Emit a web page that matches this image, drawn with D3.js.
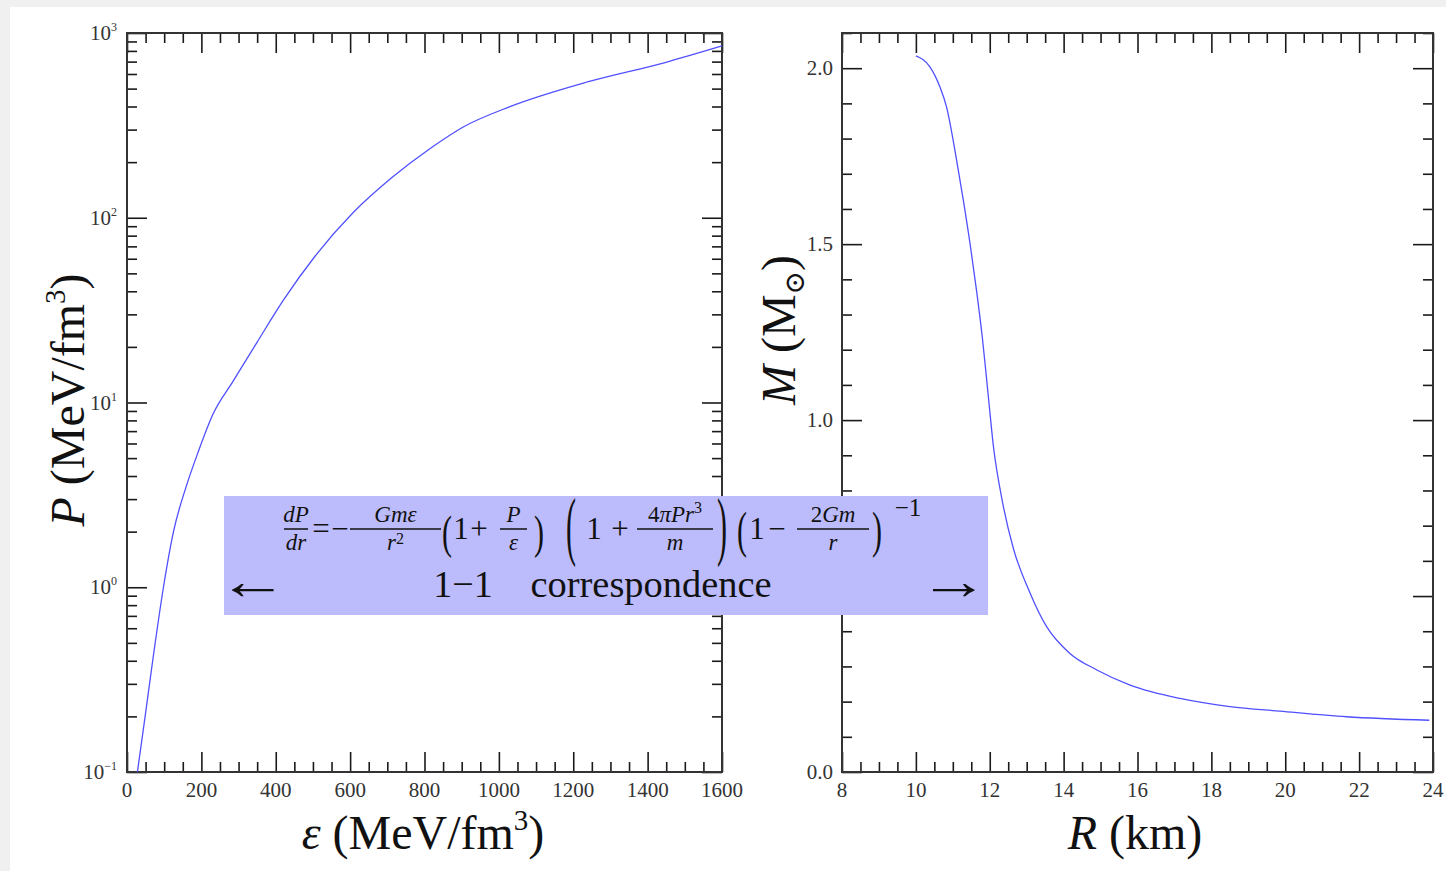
<!DOCTYPE html>
<html><head><meta charset="utf-8">
<script src="https://cdn.jsdelivr.net/npm/d3@7"></script>
<style>body{margin:0;background:#f0f0f0;} svg{display:block;} text{font-family:"Liberation Serif","DejaVu Serif",serif;}</style>
</head><body>
<svg id="c" width="1446" height="871"></svg>
<script>
// ---- data ----
const epsValues = [28, 48, 71, 98, 125, 160, 191, 232, 285, 348, 421, 505, 609, 714, 819, 903, 1028, 1238, 1447, 1600];
const pressureValues = [0.1, 0.195, 0.427, 1.0, 2.0, 3.55, 5.37, 8.71, 13.0, 20.9, 35.9, 61.7, 107, 166, 240, 309, 398, 543, 692, 851];
const radiusValues = [10.0, 10.38, 10.65, 10.83, 11.1, 11.28, 11.47, 11.65, 11.8, 11.95, 12.1, 12.34, 12.64, 13.09, 13.54, 14.17, 14.9, 15.8, 17.15, 18.5, 19.86, 21.66, 23.9];
const massValues = [2.035, 2.004, 1.947, 1.89, 1.74, 1.628, 1.499, 1.362, 1.234, 1.08, 0.925, 0.77, 0.635, 0.509, 0.413, 0.337, 0.29, 0.247, 0.209, 0.186, 0.173, 0.157, 0.147];

const epsMajorTicks = [0, 200, 400, 600, 800, 1000, 1200, 1400, 1600];
const pMajorTicks = [0.1, 1, 10, 100, 1000];
const pTickExponents = ["\u22121", "0", "1", "2", "3"];
const rMajorTicks = [8, 10, 12, 14, 16, 18, 20, 22, 24];
const mMajorTicks = [0, 0.5, 1.0, 1.5, 2.0];
const mTickLabels = ["0.0", "0.5", "1.0", "1.5", "2.0"];

// ---- layout ----
const W = 1446, H = 871;
const L = {x0: 127, x1: 722, y0: 33, y1: 772};
const R = {x0: 842, x1: 1433, y0: 33, y1: 772};
const MAJ = 20, MIN = 10;
const lineColor = "#5050ff";

const svg = d3.select("#c");
svg.append("rect").attr("width", W).attr("height", H).attr("fill", "#f0f0f0");
svg.append("rect").attr("x", 10).attr("y", 7).attr("width", W - 10).attr("height", H - 7).attr("fill", "#fff");

const xE = d3.scaleLinear().domain([0, 1600]).range([L.x0, L.x1]);
const yP = d3.scaleLog().domain([0.1, 1000]).range([L.y1, L.y0]);
const xR = d3.scaleLinear().domain([8, 24]).range([R.x0, R.x1]);
const yM = d3.scaleLinear().domain([0, 2.1]).range([R.y1, R.y0]);

const epsMinor = d3.range(0, 1601, 50).filter(v => v % 200 !== 0);
const pMinor = [];
[0.1, 1, 10, 100].forEach(d => { for (let k = 2; k <= 9; k++) pMinor.push(k * d); });
const rMinor = d3.range(8, 24.01, 0.5).filter(v => v % 2 !== 0);
const mMinor = d3.range(0, 2.101, 0.1).map(v => +v.toFixed(1)).filter(v => Math.abs(v * 2 - Math.round(v * 2)) > 1e-6);

function ticks(axisFn, scale, values, size, tx, ty) {
  const g = svg.append("g").attr("transform", `translate(${tx},${ty})`);
  g.call(axisFn(scale).tickValues(values).tickSize(-size).tickFormat(""));
  g.select(".domain").remove();
  g.selectAll(".tick line").attr("stroke", "#1a1a1a").attr("stroke-width", 1.6);
}

// left panel ticks
ticks(d3.axisBottom, xE, epsMajorTicks, MAJ, 0, L.y1);
ticks(d3.axisBottom, xE, epsMinor, MIN, 0, L.y1);
ticks(d3.axisTop, xE, epsMajorTicks, MAJ, 0, L.y0);
ticks(d3.axisTop, xE, epsMinor, MIN, 0, L.y0);
ticks(d3.axisLeft, yP, pMajorTicks, MAJ, L.x0, 0);
ticks(d3.axisLeft, yP, pMinor, MIN, L.x0, 0);
ticks(d3.axisRight, yP, pMajorTicks, MAJ, L.x1, 0);
ticks(d3.axisRight, yP, pMinor, MIN, L.x1, 0);
// right panel ticks
ticks(d3.axisBottom, xR, rMajorTicks, MAJ, 0, R.y1);
ticks(d3.axisBottom, xR, rMinor, MIN, 0, R.y1);
ticks(d3.axisTop, xR, rMajorTicks, MAJ, 0, R.y0);
ticks(d3.axisTop, xR, rMinor, MIN, 0, R.y0);
ticks(d3.axisLeft, yM, mMajorTicks, MAJ, R.x0, 0);
ticks(d3.axisLeft, yM, mMinor, MIN, R.x0, 0);
ticks(d3.axisRight, yM, mMajorTicks, MAJ, R.x1, 0);
ticks(d3.axisRight, yM, mMinor, MIN, R.x1, 0);

// frames
[L, R].forEach(p => svg.append("rect").attr("x", p.x0).attr("y", p.y0)
  .attr("width", p.x1 - p.x0).attr("height", p.y1 - p.y0)
  .attr("fill", "none").attr("stroke", "#333").attr("stroke-width", 2));

// curves
svg.append("path").datum(d3.zip(epsValues, pressureValues))
  .attr("d", d3.line().x(d => xE(d[0])).y(d => yP(d[1])).curve(d3.curveMonotoneX))
  .attr("fill", "none").attr("stroke", lineColor).attr("stroke-width", 1.3);
svg.append("path").datum(d3.zip(radiusValues, massValues))
  .attr("d", d3.line().x(d => xR(d[0])).y(d => yM(d[1])).curve(d3.curveMonotoneX))
  .attr("fill", "none").attr("stroke", lineColor).attr("stroke-width", 1.3);

// tick labels
const TL = 21, tlColor = "#333";
svg.append("g").selectAll("text").data(epsMajorTicks).join("text")
  .attr("x", d => xE(d)).attr("y", 797).attr("text-anchor", "middle")
  .attr("font-size", TL).attr("fill", tlColor).text(d => d);
svg.append("g").selectAll("text").data(rMajorTicks).join("text")
  .attr("x", d => xR(d)).attr("y", 797).attr("text-anchor", "middle")
  .attr("font-size", TL).attr("fill", tlColor).text(d => d);
const pl = svg.append("g").selectAll("text").data(pMajorTicks).join("text")
  .attr("x", 117).attr("y", d => yP(d) + 7).attr("text-anchor", "end")
  .attr("font-size", TL).attr("fill", tlColor);
pl.append("tspan").text("10");
pl.append("tspan").attr("font-size", 12).attr("dy", -9).text((d, i) => pTickExponents[i]);
svg.append("g").selectAll("text").data(mMajorTicks).join("text")
  .attr("x", 833).attr("y", d => yM(d) + 7).attr("text-anchor", "end")
  .attr("font-size", TL).attr("fill", tlColor).text((d, i) => mTickLabels[i]);

// axis titles
const AF = 48, tc = "#111";
function unitsSpans(t, first) {
  t.append("tspan").attr("font-style", "italic").text(first);
  t.append("tspan").text(" (MeV/fm");
  t.append("tspan").attr("font-size", 29).attr("dy", -19).text("3");
  t.append("tspan").attr("dy", 19).text(")");
}
let t = svg.append("text").attr("x", 423).attr("y", 849).attr("text-anchor", "middle")
  .attr("font-size", AF).attr("fill", tc);
unitsSpans(t, "\u03b5");
t = svg.append("text").attr("transform", `translate(84,400) rotate(-90)`).attr("text-anchor", "middle")
  .attr("font-size", AF).attr("fill", tc);
unitsSpans(t, "P");
t = svg.append("text").attr("x", 1135).attr("y", 849).attr("text-anchor", "middle")
  .attr("font-size", AF).attr("fill", tc);
t.append("tspan").attr("font-style", "italic").text("R");
t.append("tspan").text(" (km)");
t = svg.append("text").attr("transform", `translate(795,330) rotate(-90)`).attr("text-anchor", "middle")
  .attr("font-size", AF).attr("fill", tc);
t.append("tspan").attr("font-style", "italic").text("M");
t.append("tspan").text(" (M");
t.append("tspan").attr("font-size", 28).attr("dy", 9).attr("font-family", "DejaVu Serif").text("\u2299");
t.append("tspan").attr("dy", -9).text(")");

// ---- annotation box ----
svg.append("rect").attr("x", 224).attr("y", 496).attr("width", 764).attr("height", 119).attr("fill", "#bcbcfc");
const eq = svg.append("g").attr("fill", "#111");
const NUM_Y = 522, BAR_Y = 529, DEN_Y = 550, MAIN_Y = 539, FF = 23, MF = 31;
function piece(x, y, size, parts, anchor) {
  const te = eq.append("text").attr("x", x).attr("y", y).attr("font-size", size).attr("text-anchor", anchor || "middle");
  parts.forEach(p => {
    const s = te.append("tspan").text(p.t);
    if (p.i) s.attr("font-style", "italic");
    if (p.sup) s.attr("font-size", size * 0.7).attr("dy", -p.sup);
  });
  return te;
}
function frac(x0, x1, num, den) {
  const cx = (x0 + x1) / 2;
  piece(cx, NUM_Y, FF, num);
  eq.append("line").attr("x1", x0).attr("x2", x1).attr("y1", BAR_Y).attr("y2", BAR_Y).attr("stroke", "#111").attr("stroke-width", 1.5);
  piece(cx, DEN_Y, FF, den);
}
function paren(x, top, bot, ch) {
  const f = 30, k = (bot - top) / (0.86 * f);
  const base = bot - 0.18 * f * k;
  eq.append("text").attr("transform", `translate(${x},${base}) scale(1,${k})`)
    .attr("font-size", f).attr("text-anchor", "middle").text(ch);
}
frac(284, 308, [{t: "dP", i: 1}], [{t: "dr", i: 1}]);
piece(321, MAIN_Y, MF, [{t: "="}]);
piece(340, MAIN_Y, MF, [{t: "\u2212"}]);
frac(350, 441, [{t: "Gm\u03b5", i: 1}], [{t: "r", i: 1}, {t: "2", sup: 6}]);
paren(447, 516, 556, "(");
piece(461, MAIN_Y, MF, [{t: "1"}]);
piece(479, MAIN_Y, MF, [{t: "+"}]);
frac(500, 527, [{t: "P", i: 1}], [{t: "\u03b5", i: 1}]);
paren(539, 516, 556, ")");
paren(571, 500, 565, "(");
piece(594, MAIN_Y, MF, [{t: "1"}]);
piece(620, MAIN_Y, MF, [{t: "+"}]);
frac(637, 713, [{t: "4"}, {t: "\u03c0Pr", i: 1}, {t: "3", sup: 9}], [{t: "m", i: 1}]);
paren(722, 500, 565, ")");
paren(742, 513, 556, "(");
piece(757, MAIN_Y, MF, [{t: "1"}]);
piece(777, MAIN_Y, MF, [{t: "\u2212"}]);
frac(797, 869, [{t: "2"}, {t: "Gm", i: 1}], [{t: "r", i: 1}]);
paren(877, 513, 556, ")");
piece(908, 516, 25, [{t: "\u22121"}]);

eq.append("text").attr("transform", "translate(253,599) scale(1.35,1)").attr("font-size", 52).attr("text-anchor", "middle").text("\u2190");
eq.append("text").attr("transform", "translate(954,599) scale(1.35,1)").attr("font-size", 52).attr("text-anchor", "middle").text("\u2192");
piece(463, 597, 38, [{t: "1\u22121"}]);
piece(651, 597, 38, [{t: "correspondence"}]).attr("textLength", 241).attr("lengthAdjust", "spacingAndGlyphs");
</script>
</body></html>
